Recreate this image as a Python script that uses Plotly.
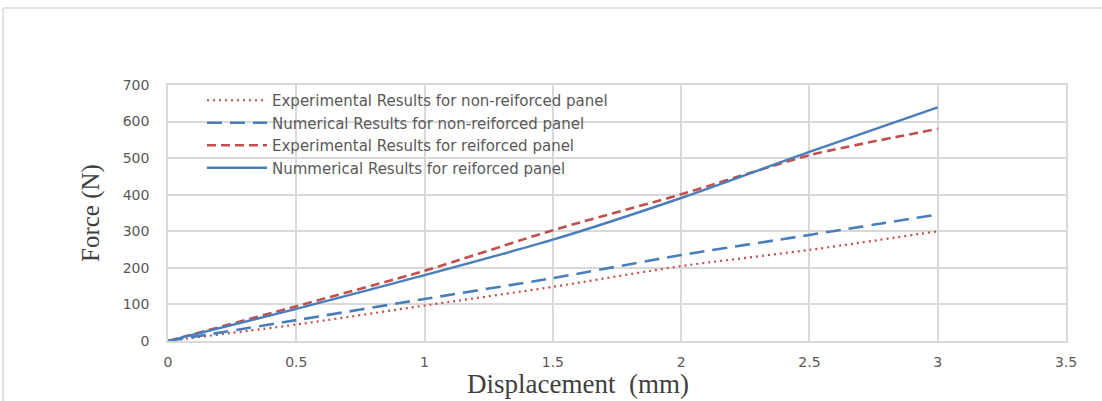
import plotly.graph_objects as go

# Data
displacement = [0, 0.5, 1.0, 1.5, 2.0, 2.5, 3.0]
exp_non_reinforced = [0, 45, 97, 148, 205, 249, 300]
num_non_reinforced = [0, 57, 115, 172, 235, 290, 346]
exp_reinforced = [0, 95, 192, 303, 401, 508, 580]
num_reinforced = [0, 88, 180, 277, 391, 517, 639]

names = [
    "Experimental Results for non-reiforced panel",
    "Numerical Results for non-reiforced panel",
    "Experimental Results for reiforced panel",
    "Nummerical Results for reiforced panel",
]

RED = "#C0504D"
BLUE = "#4A7EBB"
GRID = "#D9D9D9"
TXT = "#595959"

fig = go.Figure()
fig.add_trace(go.Scatter(x=displacement, y=exp_non_reinforced, mode="lines", name=names[0],
                         line=dict(color=RED, width=2.2, dash="2px,4px", shape="spline", smoothing=0.6)))
fig.add_trace(go.Scatter(x=displacement, y=num_non_reinforced, mode="lines", name=names[1],
                         line=dict(color=BLUE, width=2.6, dash="15px,8px", shape="spline", smoothing=0.6)))
fig.add_trace(go.Scatter(x=displacement, y=exp_reinforced, mode="lines", name=names[2],
                         line=dict(color=RED, width=2.6, dash="9px,5px", shape="spline", smoothing=0.6)))
fig.add_trace(go.Scatter(x=displacement, y=num_reinforced, mode="lines", name=names[3],
                         line=dict(color=BLUE, width=2.4, shape="spline", smoothing=0.6)))

L, R, T, B = 168, 36, 85, 60
W, H = 1102, 401
pw, ph = W - L - R, H - T - B

def px_x(p):
    return (p - L) / pw

def px_y(p):
    return (H - B - p) / ph

fig.update_layout(
    width=W, height=H,
    margin=dict(l=L, r=R, t=T, b=B, pad=0),
    paper_bgcolor="white", plot_bgcolor="white",
    showlegend=True,
    legend=dict(x=px_x(202), y=px_y(84), xanchor="left", yanchor="top",
                bgcolor="rgba(255,255,255,0)", font=dict(family="DejaVu Sans", size=15, color=TXT),
                itemwidth=60, tracegroupgap=0),
    xaxis=dict(range=[0, 3.5], dtick=0.5, showgrid=True, gridcolor=GRID, gridwidth=1.5,
               showline=True, linecolor=GRID, linewidth=1.5, mirror=True, zeroline=False,
               tickfont=dict(family="DejaVu Sans", size=14, color=TXT), ticks="",
               ticklabelstandoff=7, automargin=False),
    yaxis=dict(range=[0, 700], dtick=100, showgrid=True, gridcolor=GRID, gridwidth=1.5,
               showline=True, linecolor=GRID, linewidth=1.5, mirror=True, zeroline=False,
               tickfont=dict(family="DejaVu Sans", size=14, color=TXT), ticks="",
               ticklabelstandoff=14, automargin=False,
               title=dict(text="Force (N)", standoff=16,
                          font=dict(family="Liberation Serif", size=25, color="#404040"))),
    annotations=[
        dict(text="Displacement \u00a0(mm)", xref="paper", yref="paper",
             x=px_x(578), y=px_y(401), xanchor="center", yanchor="bottom", showarrow=False,
             font=dict(family="Liberation Serif", size=27, color="#404040")),
    ],
    shapes=[
        dict(type="line", xref="paper", yref="paper", x0=px_x(3), y0=px_y(8), x1=px_x(1110), y1=px_y(8),
             line=dict(color=GRID, width=1.5)),
        dict(type="line", xref="paper", yref="paper", x0=px_x(3), y0=px_y(8), x1=px_x(3), y1=px_y(410),
             line=dict(color=GRID, width=1.5)),
    ],
)

fig.write_html("out.html")
